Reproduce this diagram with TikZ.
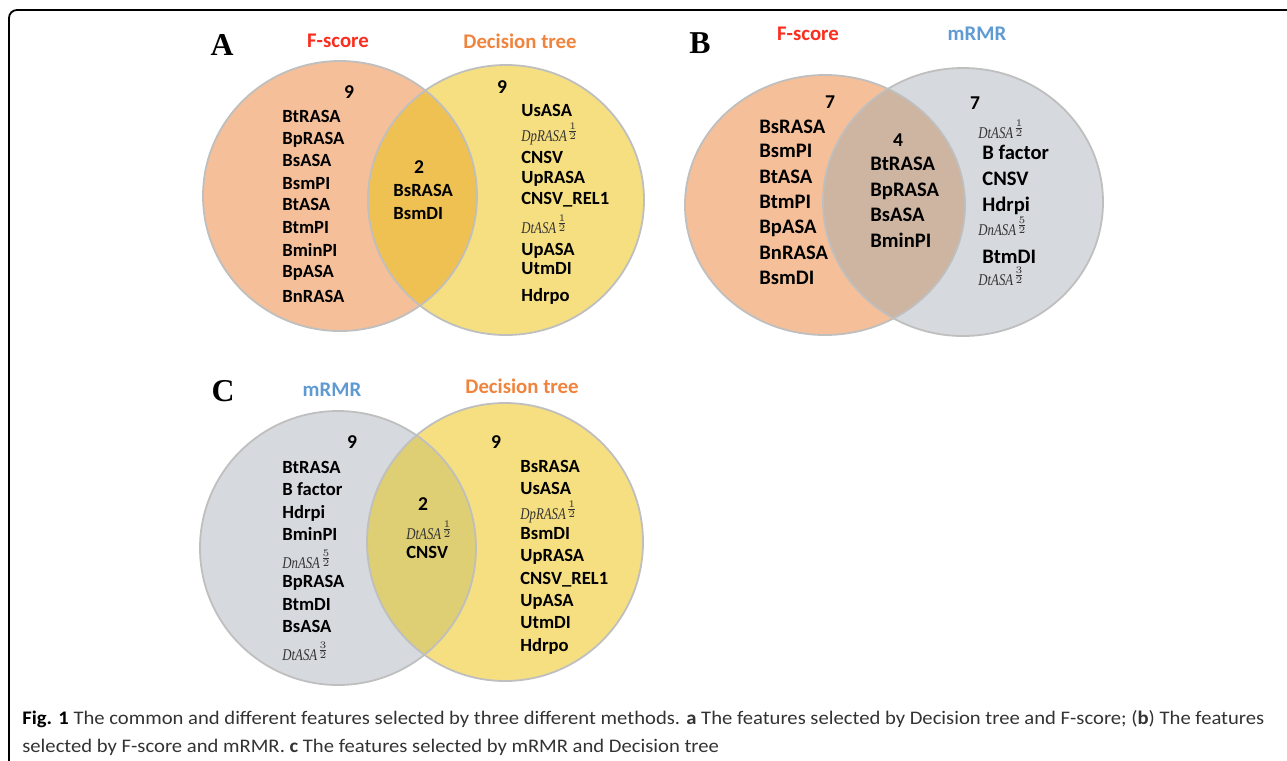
\documentclass[tikz,border=0pt]{standalone}
\usepackage{fontspec}
\setmainfont{Carlito}
\newfontfamily\letterfont{Liberation Serif}
\newfontfamily\italfont[FakeStretch=0.78]{Liberation Serif}
\newfontfamily\capfont[FakeStretch=1.075]{Carlito}
\usepackage{xcolor}
\usetikzlibrary{positioning}

\definecolor{fscore}{RGB}{245,191,153}
\definecolor{dtree}{RGB}{246,223,128}
\definecolor{mrmr}{RGB}{214,217,221}
\definecolor{lensA}{RGB}{239,193,82}
\definecolor{lensB}{RGB}{205,181,162}
\definecolor{lensC}{RGB}{222,206,116}
\definecolor{redhead}{RGB}{250,45,30}
\definecolor{orangehead}{RGB}{240,132,62}
\definecolor{bluehead}{RGB}{95,155,210}

\newcommand{\halfterm}[2]{\textit{#1}$^{\frac{#2}{2}}$}

\begin{document}
\begin{tikzpicture}[x=0.5pt, y=-0.5pt,
    rim/.style={draw=black!25, line width=0.9pt},
    feat/.style={anchor=west, inner sep=0pt, text height=6pt, text depth=0pt,
        font=\bfseries\fontsize{9.3}{10}\selectfont},
    featB/.style={feat, font=\bfseries\fontsize{10.3}{11}\selectfont},
    frac/.style={anchor=west, inner sep=0pt, text height=5.5pt, text depth=0pt,
        text=black!80, font=\italfont\fontsize{8.2}{10}\selectfont},
    count/.style={inner sep=0pt, font=\bfseries\fontsize{9.8}{10}\selectfont},
    head/.style={inner sep=0pt, font=\bfseries\fontsize{10.4}{12}\selectfont},
    panel/.style={inner sep=0pt, font=\letterfont\bfseries\fontsize{15.9}{16}\selectfont},
    caption/.style={anchor=base west, inner sep=0pt, text=black!80,
        font=\capfont\fontsize{9.6}{12}\selectfont}]
\useasboundingbox (0,0) rectangle (1287,761);
\draw[line width=0.9pt, rounded corners=4pt] (1287,10) -- (9,10) -- (9,761);

% A
\fill[fscore] (340,196) ellipse [x radius=137, y radius=135];
\fill[dtree] (506,200) ellipse [x radius=138, y radius=135];
\begin{scope}
    \clip (340,196) ellipse [x radius=137, y radius=135];
    \fill[lensA] (506,200) ellipse [x radius=138, y radius=135];
\end{scope}
\draw[rim] (340,196) ellipse [x radius=137, y radius=135];
\draw[rim] (506,200) ellipse [x radius=138, y radius=135];
\node[panel] (pA) at (222,45) {A};
\node[head, text=redhead] (fsA) at (338,41) {F-score};
\node[head, text=orangehead] (dtA) at (520,41) {Decision tree};
\node[count] (nA1) at (349,92) {9};
\node[feat] (a1) at (282,116) {BtRASA};
\node[feat] (a2) at (282,138) {BpRASA};
\node[feat] (a3) at (282,160) {BsASA};
\node[feat] (a4) at (282,183) {BsmPI};
\node[feat] (a5) at (282,204) {BtASA};
\node[feat] (a6) at (282,227) {BtmPI};
\node[feat] (a7) at (282,250) {BminPI};
\node[feat] (a8) at (282,271) {BpASA};
\node[feat] (a9) at (282,296) {BnRASA};
\node[count] (nA2) at (419,167) {2};
\node[feat] (a10) at (393,190) {BsRASA};
\node[feat] (a11) at (393,213) {BsmDI};
\node[count] (nA3) at (502,87) {9};
\node[feat] (a12) at (521,110) {UsASA};
\node[frac] (a13) at (521,136) {\halfterm{DpRASA}{1}};
\node[feat] (a14) at (521,157) {CNSV};
\node[feat] (a15) at (521,177) {UpRASA};
\node[feat] (a16) at (521,198) {CNSV\_REL1};
\node[frac] (a17) at (521,228) {\halfterm{DtASA}{1}};
\node[feat] (a18) at (521,249) {UpASA};
\node[feat] (a19) at (521,268) {UtmDI};
\node[feat] (a20) at (521,295) {Hdrpo};

% B
\fill[fscore] (825,205) ellipse [x radius=140, y radius=130];
\fill[mrmr] (963,202) ellipse [x radius=140, y radius=134];
\begin{scope}
    \clip (825,205) ellipse [x radius=140, y radius=130];
    \fill[lensB] (963,202) ellipse [x radius=140, y radius=134];
\end{scope}
\draw[rim] (825,205) ellipse [x radius=140, y radius=130];
\draw[rim] (963,202) ellipse [x radius=140, y radius=134];
\node[panel] (pB) at (700,43) {B};
\node[head, text=redhead] (fsB) at (808,34) {F-score};
\node[head, text=bluehead] (mrB) at (977,34) {mRMR};
\node[count] (nB1) at (830,102) {7};
\node[featB] (b1) at (759,127) {BsRASA};
\node[featB] (b2) at (759,151) {BsmPI};
\node[featB] (b3) at (759,177) {BtASA};
\node[featB] (b4) at (759,202) {BtmPI};
\node[featB] (b5) at (759,227) {BpASA};
\node[featB] (b6) at (759,253) {BnRASA};
\node[featB] (b7) at (759,278) {BsmDI};
\node[count] (nB2) at (898,140) {4};
\node[featB] (b8) at (870,164) {BtRASA};
\node[featB] (b9) at (870,190) {BpRASA};
\node[featB] (b10) at (870,215) {BsASA};
\node[featB] (b11) at (870,241) {BminPI};
\node[count] (nB3) at (975,103) {7};
\node[frac] (b12) at (978,133) {\halfterm{DtASA}{1}};
\node[featB] (b13) at (982,153) {B factor};
\node[featB] (b14) at (982,179) {CNSV};
\node[featB] (b15) at (982,205) {Hdrpi};
\node[frac] (b16) at (978,230) {\halfterm{DnASA}{5}};
\node[featB] (b17) at (982,257) {BtmDI};
\node[frac] (b18) at (978,280) {\halfterm{DtASA}{3}};

% C
\fill[mrmr] (338,548) ellipse [x radius=138, y radius=137];
\fill[dtree] (505,542) ellipse [x radius=138, y radius=139];
\begin{scope}
    \clip (338,548) ellipse [x radius=138, y radius=137];
    \fill[lensC] (505,542) ellipse [x radius=138, y radius=139];
\end{scope}
\draw[rim] (338,548) ellipse [x radius=138, y radius=137];
\draw[rim] (505,542) ellipse [x radius=138, y radius=139];
\node[panel] (pC) at (223,391) {C};
\node[head, text=bluehead] (mrC) at (332,390) {mRMR};
\node[head, text=orangehead] (dtC) at (522,386) {Decision tree};
\node[count] (nC1) at (352,442) {9};
\node[feat] (c1) at (282,467) {BtRASA};
\node[feat] (c2) at (282,489) {B factor};
\node[feat] (c3) at (282,512) {Hdrpi};
\node[feat] (c4) at (282,534) {BminPI};
\node[frac] (c5) at (282,563) {\halfterm{DnASA}{5}};
\node[feat] (c6) at (282,581) {BpRASA};
\node[feat] (c7) at (282,604) {BtmDI};
\node[feat] (c8) at (282,626) {BsASA};
\node[frac] (c9) at (282,655) {\halfterm{DtASA}{3}};
\node[count] (nC2) at (423,504) {2};
\node[frac] (c10) at (406,534) {\halfterm{DtASA}{1}};
\node[feat] (c11) at (406,552) {CNSV};
\node[count] (nC3) at (496,442) {9};
\node[feat] (c12) at (520,466) {BsRASA};
\node[feat] (c13) at (520,488) {UsASA};
\node[frac] (c14) at (520,514) {\halfterm{DpRASA}{1}};
\node[feat] (c15) at (520,533) {BsmDI};
\node[feat] (c16) at (520,555) {UpRASA};
\node[feat] (c17) at (520,578) {CNSV\_REL1};
\node[feat] (c18) at (520,600) {UpASA};
\node[feat] (c19) at (520,622) {UtmDI};
\node[feat] (c20) at (520,645) {Hdrpo};

% caption
\node[caption] (cap1) at (22,724) {\textbf{\color{black}Fig. 1} The common and different features selected by three different methods. \textbf{a} The features selected by Decision tree and F-score; (\textbf{b}) The features};
\node[caption] (cap2) at (22,752) {selected by F-score and mRMR. \textbf{c} The features selected by mRMR and Decision tree};
\end{tikzpicture}
\end{document}
